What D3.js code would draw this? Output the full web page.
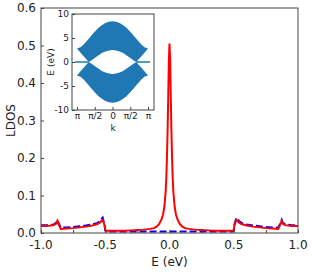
<!DOCTYPE html>
<html>
<head>
<meta charset="utf-8">
<script src="https://cdn.jsdelivr.net/npm/d3@7"></script>
<style>
  body { margin: 0; background: #fff; }
  text { font-family: "DejaVu Sans", sans-serif; fill: #222; }
</style>
</head>
<body>
<div id="chart"></div>
<script>
// main LDOS curves (E in eV)
const energies = [-1.0, -0.95, -0.9, -0.88, -0.873, -0.865, -0.846, -0.8, -0.75, -0.7, -0.65, -0.6, -0.56, -0.54, -0.53, -0.52, -0.505, -0.5, -0.49,
    -0.45, -0.4, -0.35, -0.3, -0.25, -0.2, -0.15, -0.12, -0.1, -0.08, -0.06, -0.05, -0.04, -0.03, -0.025, -0.02, -0.015, -0.01, -0.005, 0,
    0.005, 0.01, 0.015, 0.02, 0.025, 0.03, 0.04, 0.05, 0.06, 0.08, 0.1, 0.12, 0.15, 0.2, 0.25, 0.3, 0.35, 0.4, 0.45,
    0.49, 0.5, 0.505, 0.52, 0.53, 0.54, 0.56, 0.6, 0.65, 0.7, 0.75, 0.8, 0.846, 0.865, 0.873, 0.88, 0.9, 0.95, 1.0];
const ldosRed = [0.019, 0.019, 0.021, 0.025, 0.032, 0.025, 0.011, 0.012, 0.013, 0.015, 0.017, 0.020, 0.024, 0.028, 0.032, 0.035, 0.02, 0.008, 0.006,
    0.006, 0.006, 0.006, 0.007, 0.008, 0.009, 0.011, 0.013, 0.017, 0.024, 0.038, 0.05, 0.07, 0.11, 0.145, 0.20, 0.27, 0.36, 0.46, 0.505,
    0.46, 0.36, 0.27, 0.20, 0.145, 0.11, 0.07, 0.05, 0.038, 0.024, 0.017, 0.013, 0.011, 0.009, 0.008, 0.007, 0.006, 0.006, 0.006,
    0.006, 0.008, 0.02, 0.035, 0.032, 0.028, 0.024, 0.020, 0.017, 0.015, 0.013, 0.012, 0.011, 0.025, 0.032, 0.025, 0.021, 0.019, 0.019];
const ldosBlue = [0.021, 0.021, 0.023, 0.028, 0.035, 0.028, 0.014, 0.015, 0.016, 0.018, 0.020, 0.023, 0.027, 0.032, 0.037, 0.041, 0.022, 0.006, 0.004,
    0.004, 0.004, 0.004, 0.004, 0.004, 0.004, 0.004, 0.004, 0.004, 0.004, 0.004, 0.004, 0.004, 0.004, 0.004, 0.004, 0.004, 0.004, 0.004, 0.004,
    0.004, 0.004, 0.004, 0.004, 0.004, 0.004, 0.004, 0.004, 0.004, 0.004, 0.004, 0.004, 0.004, 0.004, 0.004, 0.004, 0.004, 0.004, 0.004,
    0.004, 0.006, 0.022, 0.041, 0.037, 0.032, 0.027, 0.023, 0.020, 0.018, 0.016, 0.015, 0.014, 0.028, 0.035, 0.028, 0.023, 0.021, 0.021];

const xTicks = [-1.0, -0.5, 0.0, 0.5, 1.0];
const xMinor = [-1.0, -0.75, -0.5, -0.25, 0.0, 0.25, 0.5, 0.75, 1.0];
const yTicks = [0.0, 0.1, 0.2, 0.3, 0.4, 0.5, 0.6];

// inset band structure (k in units of pi, E in eV)
const kVals = [-1, -0.9, -0.8, -0.7, -0.67, -0.6, -0.5, -0.4, -0.3, -0.2, -0.1, 0, 0.1, 0.2, 0.3, 0.4, 0.5, 0.6, 0.67, 0.7, 0.8, 0.9, 1];
const upperOuter = [2.79, 3.06, 3.73, 4.59, 4.85, 5.48, 6.32, 7.07, 7.68, 8.13, 8.40, 8.5, 8.40, 8.13, 7.68, 7.07, 6.32, 5.48, 4.85, 4.59, 3.73, 3.06, 2.79];
const upperInner = [2.79, 1.95, 1.1, 0.25, 0, 0.3, 0.85, 1.35, 1.85, 2.2, 2.42, 2.5, 2.42, 2.2, 1.85, 1.35, 0.85, 0.3, 0, 0.25, 1.1, 1.95, 2.79];
const lowerInner = [-2.79, -1.95, -1.1, -0.25, 0, -0.3, -0.85, -1.35, -1.85, -2.2, -2.42, -2.5, -2.42, -2.2, -1.85, -1.35, -0.85, -0.3, 0, -0.25, -1.1, -1.95, -2.79];
const lowerOuter = [-2.79, -3.06, -3.73, -4.59, -4.85, -5.48, -6.32, -7.07, -7.68, -8.13, -8.40, -8.5, -8.40, -8.13, -7.68, -7.07, -6.32, -5.48, -4.85, -4.59, -3.73, -3.06, -2.79];
const edgeK = [[-1.06, -0.67], [0.67, 1.06]];
const insetXTicks = [-1, -0.5, 0, 0.5, 1];
const insetXLabels = ["π", "π/2", "0", "π/2", "π"];
const insetYTicks = [10, 5, 0, -5, -10];

const W = 312, H = 273;
const m = {top: 8, right: 14, bottom: 40, left: 41};

let svg = d3.select("#chart").append("svg")
    .attr("width", W)
    .attr("height", H);

let xScale = d3.scaleLinear().domain([-1, 1]).range([m.left, W - m.right]);
let yScale = d3.scaleLinear().domain([0, 0.6]).range([H - m.bottom, m.top]);

svg.append("clipPath").attr("id", "clip")
    .append("rect")
    .attr("x", m.left).attr("y", m.top)
    .attr("width", W - m.left - m.right)
    .attr("height", H - m.top - m.bottom);

// curves
let line = d3.line()
    .x((d, i) => xScale(energies[i]))
    .y(d => yScale(d));

let plot = svg.append("g").attr("clip-path", "url(#clip)");
plot.append("path")
    .attr("d", line(ldosBlue))
    .attr("fill", "none")
    .attr("stroke", "#0000ff")
    .attr("stroke-width", 2)
    .attr("stroke-dasharray", "7,3");
plot.append("path")
    .attr("d", line(ldosRed))
    .attr("fill", "none")
    .attr("stroke", "#ff0000")
    .attr("stroke-width", 2);

// frame
svg.append("rect")
    .attr("x", m.left).attr("y", m.top)
    .attr("width", W - m.left - m.right)
    .attr("height", H - m.top - m.bottom)
    .attr("fill", "none")
    .attr("stroke", "#444")
    .attr("stroke-width", 1);

// axes with inward ticks
let xAxis = svg.append("g")
    .attr("transform", "translate(0," + (H - m.bottom) + ")")
    .call(d3.axisBottom(xScale).tickValues(xMinor).tickSizeInner(-3).tickSizeOuter(0).tickFormat(""));
xAxis.select(".domain").remove();
xAxis.selectAll("line").attr("stroke", "#444");

// plain hyphen minus, like the reference
let fmt = d => d.toFixed(1);

svg.append("g").selectAll("text")
    .data(xTicks)
    .enter().append("text")
    .attr("x", d => xScale(d))
    .attr("y", H - m.bottom + 16)
    .attr("text-anchor", "middle")
    .attr("font-size", 12)
    .text(fmt);

let yAxis = svg.append("g")
    .attr("transform", "translate(" + m.left + ",0)")
    .call(d3.axisLeft(yScale).tickValues(yTicks).tickSizeInner(-3).tickSizeOuter(0).tickPadding(5).tickFormat(fmt));
yAxis.select(".domain").remove();
yAxis.selectAll("line").attr("stroke", "#444");
yAxis.selectAll("text")
    .attr("font-size", 12)
    .attr("font-family", "DejaVu Sans")
    .attr("fill", "#222");

svg.append("text")
    .attr("x", (m.left + W - m.right) / 2)
    .attr("y", H - 7)
    .attr("text-anchor", "middle")
    .attr("font-size", 12)
    .text("E (eV)");

svg.append("text")
    .attr("transform", "translate(15," + ((m.top + H - m.bottom) / 2) + ") rotate(-90)")
    .attr("text-anchor", "middle")
    .attr("font-size", 12)
    .text("LDOS");

// ---- inset ----
let ins = {left: 72, right: 154, top: 14, bottom: 110};
let kScale = d3.scaleLinear().domain([-1, 1]).range([77, 148]);
let eScale = d3.scaleLinear().domain([-10, 10]).range([ins.bottom, ins.top]);

svg.append("rect")
    .attr("x", ins.left).attr("y", ins.top)
    .attr("width", ins.right - ins.left)
    .attr("height", ins.bottom - ins.top)
    .attr("fill", "#fff");

let band = (lo, hi) => d3.area()
    .x((d, i) => kScale(kVals[i]))
    .y0((d, i) => eScale(lo[i]))
    .y1((d, i) => eScale(hi[i]))(kVals);

svg.append("path").attr("d", band(upperInner, upperOuter)).attr("fill", "#1f77b4");
svg.append("path").attr("d", band(lowerOuter, lowerInner)).attr("fill", "#1f77b4");

svg.append("g").selectAll("line")
    .data(edgeK)
    .enter().append("line")
    .attr("x1", d => kScale(d[0]))
    .attr("x2", d => kScale(d[1]))
    .attr("y1", eScale(0))
    .attr("y2", eScale(0))
    .attr("stroke", "#1f77b4")
    .attr("stroke-width", 1.5);

svg.append("rect")
    .attr("x", ins.left).attr("y", ins.top)
    .attr("width", ins.right - ins.left)
    .attr("height", ins.bottom - ins.top)
    .attr("fill", "none")
    .attr("stroke", "#444")
    .attr("stroke-width", 1);

let insX = svg.append("g")
    .attr("transform", "translate(0," + ins.bottom + ")")
    .call(d3.axisBottom(kScale).tickValues(insetXTicks).tickSizeInner(-3).tickSizeOuter(0).tickPadding(3)
        .tickFormat((d, i) => insetXLabels[i]));
insX.select(".domain").remove();
insX.selectAll("line").attr("stroke", "#444");
insX.selectAll("text").attr("font-size", 9).attr("font-family", "DejaVu Sans").attr("fill", "#222");

let insY = svg.append("g")
    .attr("transform", "translate(" + ins.left + ",0)")
    .call(d3.axisLeft(eScale).tickValues(insetYTicks).tickSizeInner(-3).tickSizeOuter(0).tickPadding(3)
        .tickFormat(d => String(d)));
insY.select(".domain").remove();
insY.selectAll("line").attr("stroke", "#444");
insY.selectAll("text").attr("font-size", 9).attr("font-family", "DejaVu Sans").attr("fill", "#222");

svg.append("text")
    .attr("x", (ins.left + ins.right) / 2)
    .attr("y", ins.bottom + 21)
    .attr("text-anchor", "middle")
    .attr("font-size", 9)
    .text("k");

svg.append("text")
    .attr("transform", "translate(54," + ((ins.top + ins.bottom) / 2) + ") rotate(-90)")
    .attr("text-anchor", "middle")
    .attr("font-size", 9)
    .text("E (eV)");
</script>
</body>
</html>
